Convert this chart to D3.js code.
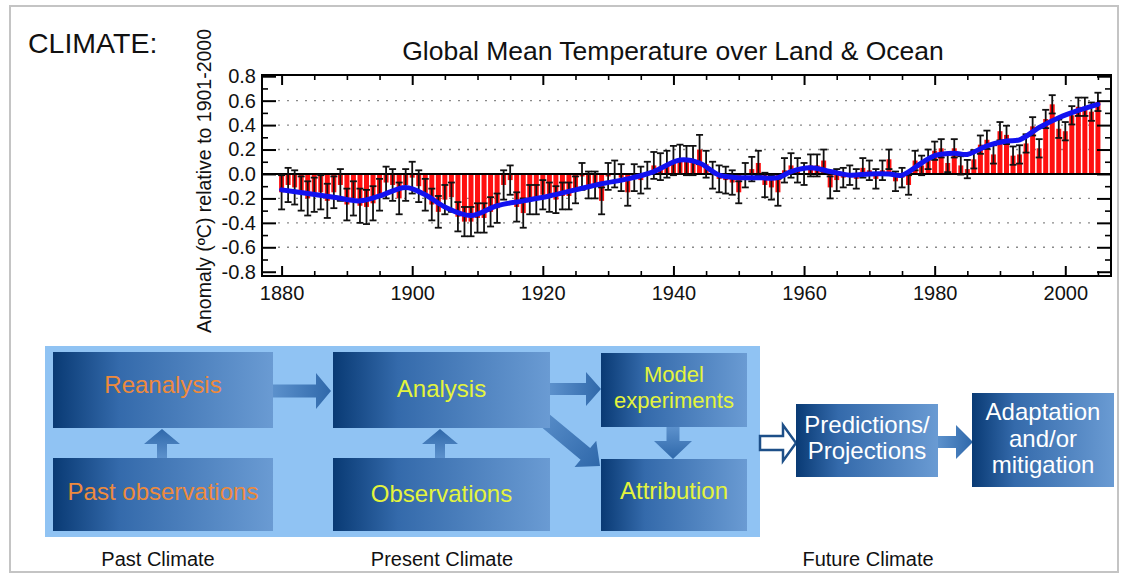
<!DOCTYPE html>
<html><head><meta charset="utf-8">
<script src="https://cdn.jsdelivr.net/npm/d3@7"></script>
<style>
html,body{margin:0;padding:0;background:#fff;}
svg{display:block;font-family:"Liberation Sans",Arial,sans-serif;}
</style></head>
<body>
<svg id="c" width="1125" height="575"></svg>
<script>
// ---------------- DATA ----------------
const firstYear = 1880;
const anomalies = [
 -0.15,-0.09,-0.11,-0.16,-0.20,-0.17,-0.15,-0.22,-0.15,-0.09,
 -0.25,-0.20,-0.26,-0.27,-0.24,-0.17,-0.07,-0.09,-0.20,-0.09,
 -0.03,-0.10,-0.17,-0.25,-0.31,-0.21,-0.19,-0.35,-0.39,-0.39,
 -0.36,-0.36,-0.31,-0.28,-0.09,-0.05,-0.27,-0.32,-0.21,-0.21,
 -0.17,-0.19,-0.21,-0.18,-0.18,-0.13,-0.02,-0.09,-0.09,-0.22,
 -0.02, 0.00,-0.03,-0.15,-0.03,-0.05,-0.01, 0.07, 0.06, 0.08,
  0.11, 0.12, 0.11, 0.11, 0.20, 0.08,-0.01,-0.04,-0.05,-0.07,
 -0.15,-0.01, 0.04, 0.09,-0.09,-0.11,-0.15, 0.03, 0.07, 0.03,
  0.00, 0.07, 0.07, 0.11,-0.11,-0.05,-0.03,-0.01,-0.04, 0.05,
  0.03,-0.04, 0.03, 0.12,-0.06,-0.03,-0.09, 0.11, 0.07, 0.12,
  0.19, 0.21, 0.09, 0.21, 0.07, 0.04, 0.12, 0.24, 0.28, 0.16,
  0.35, 0.32, 0.15, 0.16, 0.25, 0.39, 0.21, 0.45, 0.57, 0.37,
  0.35, 0.48, 0.55, 0.55, 0.51, 0.59
];
const errors = [
 0.14,0.14,0.14,0.14,0.14,0.14,0.14,0.14,0.13,0.13,
 0.13,0.14,0.14,0.14,0.14,0.13,0.13,0.13,0.13,0.13,
 0.13,0.13,0.13,0.13,0.13,0.12,0.12,0.12,0.12,0.12,
 0.12,0.12,0.12,0.12,0.12,0.12,0.12,0.12,0.12,0.12,
 0.12,0.12,0.11,0.11,0.11,0.11,0.11,0.11,0.11,0.11,
 0.11,0.11,0.11,0.11,0.11,0.11,0.11,0.11,0.11,0.11,
 0.12,0.12,0.12,0.12,0.12,0.11,0.11,0.11,0.11,0.10,
 0.09,0.10,0.10,0.10,0.10,0.10,0.11,0.10,0.10,0.10,
 0.09,0.09,0.09,0.09,0.09,0.09,0.08,0.08,0.08,0.08,
 0.08,0.08,0.08,0.08,0.08,0.08,0.08,0.08,0.08,0.08,
 0.075,0.075,0.075,0.075,0.075,0.075,0.075,0.075,0.075,0.075,
 0.075,0.075,0.075,0.075,0.075,0.075,0.075,0.075,0.075,0.075,
 0.075,0.075,0.075,0.075,0.075,0.075
];
const smoothYears = [1880,1884,1888,1892,1895,1899,1902,1905,1909,1913,1917,1921,1925,1929,1933,1937,1941,1944,1947,1950,1953,1956,1958,1961,1964,1967,1970,1973,1975,1978,1980,1983,1985,1988,1991,1993,1996,1999,2002,2005];
const smoothVals  = [-0.13,-0.16,-0.19,-0.22,-0.18,-0.11,-0.17,-0.27,-0.34,-0.26,-0.22,-0.18,-0.13,-0.08,-0.04,0.02,0.115,0.09,-0.01,-0.03,-0.03,-0.03,0.02,0.05,0.02,-0.01,0.00,0.00,-0.01,0.09,0.15,0.17,0.16,0.23,0.27,0.28,0.38,0.46,0.52,0.57];
const xTickLabels = [1880,1900,1920,1940,1960,1980,2000];
const yTickLabels = [-0.8,-0.6,-0.4,-0.2,0.0,0.2,0.4,0.6,0.8];
const gridValues = [-0.6,-0.4,-0.2,0.2,0.4,0.6];
const chartTitle = "Global Mean Temperature over Land & Ocean";
const yLabel = "Anomaly (ºC) relative to 1901-2000";
const headline = "CLIMATE:";
const stageLabels = ["Past Climate","Present Climate","Future Climate"];

// ---------------- CHART ----------------
const svg = d3.select("#c");
const FONT = "'Liberation Sans', Arial, sans-serif";

// outer frame
svg.append("rect").attr("x",10).attr("y",6).attr("width",1108).attr("height",566)
  .attr("fill","none").attr("stroke","#c4c4c4").attr("stroke-width",2);

svg.append("text").attr("x",28).attr("y",53).attr("font-size",28.5).attr("fill","#111")
  .text(headline);

const L = 262, R = 1111, T = 75, B = 276;
const x = d3.scaleLinear().domain([1877, 2007]).range([L, R]);
const y = d3.scaleLinear().domain([-0.835, 0.81]).range([B, T]);

const data = anomalies.map((v,i)=>({year:firstYear+i, v, e:errors[i]}));

// grid
svg.append("g").selectAll("line").data(gridValues).join("line")
  .attr("x1",L+16).attr("x2",R-16).attr("y1",d=>y(d)).attr("y2",d=>y(d))
  .attr("stroke","#8a8a8a").attr("stroke-width",1.4).attr("stroke-dasharray","2,7");

// bars
const bw = 5;
svg.append("g").selectAll("rect").data(data).join("rect")
  .attr("x",d=>x(d.year)-bw/2).attr("width",bw)
  .attr("y",d=>y(Math.max(0,d.v))).attr("height",d=>Math.abs(y(d.v)-y(0)))
  .attr("fill","#ff1010");

// zero line
svg.append("line").attr("x1",L).attr("x2",R).attr("y1",y(0)).attr("y2",y(0))
  .attr("stroke","#000").attr("stroke-width",2);

// error bars
const eg = svg.append("g").attr("stroke","#111").attr("stroke-width",1.8);
data.forEach(d=>{
  const cx = x(d.year);
  eg.append("line").attr("x1",cx).attr("x2",cx).attr("y1",y(d.v-d.e)).attr("y2",y(d.v+d.e));
  eg.append("line").attr("x1",cx-3.5).attr("x2",cx+3.5).attr("y1",y(d.v+d.e)).attr("y2",y(d.v+d.e));
  eg.append("line").attr("x1",cx-3.5).attr("x2",cx+3.5).attr("y1",y(d.v-d.e)).attr("y2",y(d.v-d.e));
});

// smooth line
const line = d3.line().x(d=>x(d[0])).y(d=>y(d[1])).curve(d3.curveCatmullRom.alpha(0.5));
svg.append("path").datum(smoothYears.map((yr,i)=>[yr,smoothVals[i]]))
  .attr("d",line).attr("fill","none").attr("stroke","#1212f0").attr("stroke-width",5)
  .attr("stroke-linecap","round");

// axes
const minorX = d3.range(1880, 2006, 5).filter(v=>v%20!==0);
const minorY = d3.range(-8, 9, 1).map(v=>v/10).filter(v=>Math.abs(Math.round(v*10))%2===1);
const yFmt = v => d3.format(".1f")(v).replace("−","-");
function styleAxis(g, w){ g.select(".domain").remove(); g.selectAll(".tick line").attr("stroke","#000").attr("stroke-width",w); g.selectAll("text").attr("font-family",FONT).attr("fill","#111"); }

svg.append("g").attr("transform",`translate(0,${B})`)
  .call(d3.axisBottom(x).tickValues(xTickLabels).tickSize(-10).tickPadding(10).tickFormat(d3.format("d")))
  .call(g=>{styleAxis(g,2); g.selectAll("text").attr("font-size",20);});
svg.append("g").attr("transform",`translate(0,${B})`)
  .call(d3.axisBottom(x).tickValues(minorX).tickSize(-5).tickFormat(""))
  .call(g=>styleAxis(g,1.6));
svg.append("g").attr("transform",`translate(0,${T})`)
  .call(d3.axisTop(x).tickValues(xTickLabels).tickSize(-10).tickFormat(""))
  .call(g=>styleAxis(g,2));
svg.append("g").attr("transform",`translate(0,${T})`)
  .call(d3.axisTop(x).tickValues(minorX).tickSize(-5).tickFormat(""))
  .call(g=>styleAxis(g,1.6));

svg.append("g").attr("transform",`translate(${L},0)`)
  .call(d3.axisLeft(y).tickValues(yTickLabels).tickSize(-14).tickPadding(6).tickFormat(yFmt))
  .call(g=>{styleAxis(g,2); g.selectAll("text").attr("font-size",20);});
svg.append("g").attr("transform",`translate(${L},0)`)
  .call(d3.axisLeft(y).tickValues(minorY).tickSize(-6).tickFormat(""))
  .call(g=>styleAxis(g,1.6));
svg.append("g").attr("transform",`translate(${R},0)`)
  .call(d3.axisRight(y).tickValues(yTickLabels).tickSize(-14).tickFormat(""))
  .call(g=>styleAxis(g,2));
svg.append("g").attr("transform",`translate(${R},0)`)
  .call(d3.axisRight(y).tickValues(minorY).tickSize(-6).tickFormat(""))
  .call(g=>styleAxis(g,1.6));

svg.append("rect").attr("x",L).attr("y",T).attr("width",R-L).attr("height",B-T)
  .attr("fill","none").attr("stroke","#000").attr("stroke-width",2);

svg.append("text").attr("x",673).attr("y",60).attr("text-anchor","middle")
  .attr("font-size",26.5).attr("fill","#111").text(chartTitle);
svg.append("text").attr("transform","translate(211,181) rotate(-90)").attr("text-anchor","middle")
  .attr("font-size",19.5).attr("fill","#111").text(yLabel);

// ---------------- DIAGRAM ----------------
const defs = svg.append("defs");
const bg = defs.append("linearGradient").attr("id","boxg").attr("x1","0").attr("x2","1").attr("y1","0").attr("y2","0");
bg.append("stop").attr("offset","0").attr("stop-color","#093a74");
bg.append("stop").attr("offset","0.3").attr("stop-color","#346aab");
bg.append("stop").attr("offset","1").attr("stop-color","#6a9bd3");
const ag = defs.append("linearGradient").attr("id","arrg").attr("x1","0").attr("x2","1").attr("y1","0").attr("y2","0");
ag.append("stop").attr("offset","0").attr("stop-color","#5c91cc");
ag.append("stop").attr("offset","1").attr("stop-color","#2f68aa");

svg.append("rect").attr("x",45).attr("y",346).attr("width",715).attr("height",191).attr("fill","#90c3f3");

function arrow(x0,y0,x1,y1,sw,hw,hl,fill,stroke){
  const len = Math.hypot(x1-x0,y1-y0), ang = Math.atan2(y1-y0,x1-x0)*180/Math.PI;
  const p = [[0,-sw/2],[len-hl,-sw/2],[len-hl,-hw/2],[len,0],[len-hl,hw/2],[len-hl,sw/2],[0,sw/2]];
  svg.append("path").attr("d","M"+p.map(q=>q.join(",")).join("L")+"Z")
    .attr("transform",`translate(${x0},${y0}) rotate(${ang})`)
    .attr("fill",fill).attr("stroke",stroke||"none").attr("stroke-width",stroke?2.5:0);
}
arrow(535,412,600,466,15,34,19,"url(#arrg)");
arrow(273,391,331,391,13,36,15,"url(#arrg)");
arrow(162,458,162,429,10,36,15,"url(#arrg)");
arrow(440,458,440,429,10,36,15,"url(#arrg)");
arrow(550,389,601,389,12,34,15,"url(#arrg)");
arrow(673,427,673,459,13,38,18,"url(#arrg)");
arrow(938,442,973,442,12,34,17,"url(#arrg)");
arrow(760,443,796,443,14,36,13,"#ffffff","#1d4f88");

const boxes = [
  {x:53,y:352,w:220,h:76,lines:["Reanalysis"],c:"#ee8a3c",fs:24,base:[393]},
  {x:53,y:458,w:220,h:73,lines:["Past observations"],c:"#ee8a3c",fs:24,base:[500]},
  {x:333,y:352,w:217,h:76,lines:["Analysis"],c:"#e4f43c",fs:24,base:[397]},
  {x:333,y:458,w:217,h:73,lines:["Observations"],c:"#e4f43c",fs:24,base:[502]},
  {x:601,y:353,w:146,h:74,lines:["Model","experiments"],c:"#e4f43c",fs:22,base:[382,408]},
  {x:601,y:459,w:146,h:72,lines:["Attribution"],c:"#e4f43c",fs:24,base:[499]},
  {x:796,y:404,w:142,h:73,lines:["Predictions/","Projections"],c:"#ffffff",fs:24,base:[433,459]},
  {x:972,y:393,w:142,h:94,lines:["Adaptation","and/or","mitigation"],c:"#ffffff",fs:24,base:[420,447,473]}
];
boxes.forEach(b=>{
  svg.append("rect").attr("x",b.x).attr("y",b.y).attr("width",b.w).attr("height",b.h).attr("fill","url(#boxg)");
  b.lines.forEach((t,i)=>{
    svg.append("text").attr("x",b.x+b.w/2).attr("y",b.base[i]).attr("text-anchor","middle")
      .attr("font-size",b.fs).attr("fill",b.c).text(t);
  });
});

const stageX = [158,442,868];
stageLabels.forEach((t,i)=>{
  svg.append("text").attr("x",stageX[i]).attr("y",566).attr("text-anchor","middle")
    .attr("font-size",20).attr("fill","#111").text(t);
});
</script>
</body></html>
